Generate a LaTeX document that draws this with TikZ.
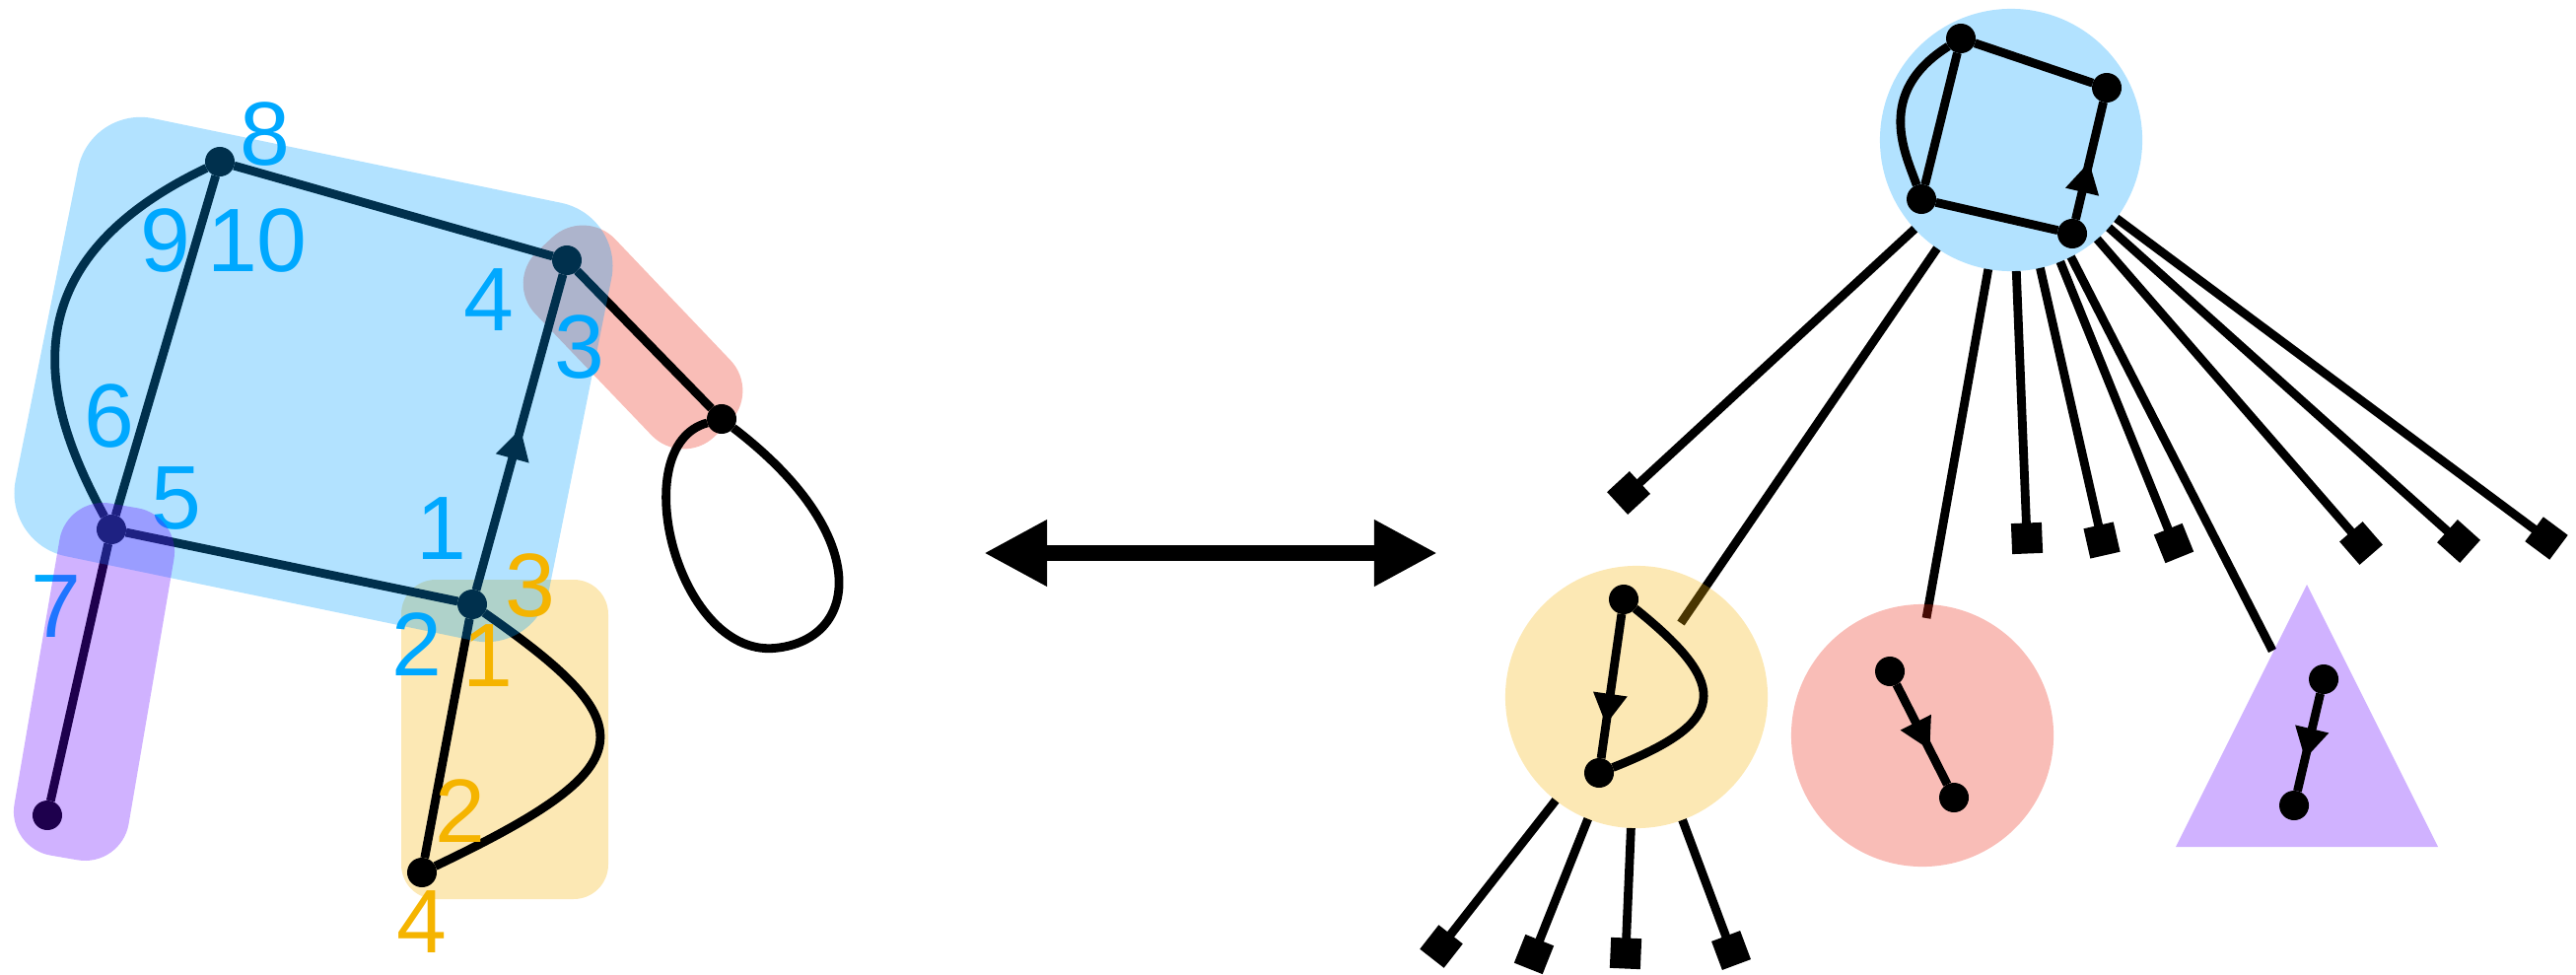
\documentclass[tikz,border=0pt]{standalone}
\usepackage{fontspec}
\setmainfont{Liberation Sans}
\usetikzlibrary{arrows.meta,calc}
\definecolor{regblue}{RGB}{0,160,255}
\definecolor{regred}{RGB}{235,38,15}
\definecolor{regyel}{RGB}{245,178,5}
\definecolor{regpur}{RGB}{100,0,255}
\definecolor{labblue}{RGB}{0,168,255}
\definecolor{laborange}{RGB}{245,180,0}
\tikzset{
  dot/.style={circle, fill=black, minimum size=0.3cm, inner sep=0pt, outer sep=0pt},
  gline/.style={line width=0.088cm, line join=round},
  region/.style={fill opacity=0.3},
  blab/.style={text=labblue, font=\fontsize{26}{30}\selectfont, inner sep=0pt},
  olab/.style={text=laborange, font=\fontsize{26}{30}\selectfont, inner sep=0pt},
  sq/.style={-{Square[length=0.31cm,width=0.31cm]}, shorten >=-0.155cm},
  hole/.style={circle, minimum size=2.66cm, inner sep=0pt, outer sep=0pt},
  bigtip/.style={{Triangle[length=0.64cm,width=0.63cm]}-{Triangle[length=0.64cm,width=0.63cm]}},
}
% arrowhead drawn at a fraction of an edge: from, to, position, name
\newcommand{\midtri}[4]{%
  \coordinate (#4t) at ($(#1)!#3!(#2)$);
  \coordinate (#4b) at ($(#4t)!0.31cm!(#1)$);
  \fill (#4t) -- ($(#4b)!0.175cm!90:(#4t)$) -- ($(#4b)!0.175cm!-90:(#4t)$) -- cycle;}
\begin{document}
\begin{tikzpicture}[x=0.01cm, y=-0.01cm]
\useasboundingbox (0,0) rectangle (2613,988);

% ---------------- left graph ----------------
\fill[regred, region, rounded corners=0.45cm] (593,210) -- (772,398) -- (692,474) -- (512,286) -- cycle;
\fill[regyel, region, rounded corners=0.35cm] (407,588) rectangle (617,912);

\node[dot] (n8) at (223,164) {};
\node[dot] (n4) at (575,264) {};
\node[dot] (nL) at (732,425) {};
\node[dot] (n5) at (113,537) {};
\node[dot] (nc) at (479,613) {};
\node[dot] (nb) at (428,885) {};
\node[dot] (n7) at (48,827) {};
\coordinate (lb) at (790,657);

\draw[gline] (n8) -- (n4);
\draw[gline] (n8) -- (n5);
\draw[gline] (n8) .. controls (-8,274) and (53,426) .. (n5);
\draw[gline] (n5) -- (nc);
\draw[gline] (nc) -- (n4);
\midtri{nc}{n4}{0.51}{ar1}
\draw[gline] (n4) -- (nL);
\draw[gline] (nL) .. controls (632,452) and (688,672) .. (lb) .. controls (872,646) and (885,542) .. (nL);
\draw[gline] (nc) -- (nb);
\draw[gline] (nc) .. controls (657,737) and (654,777) .. (nb);
\draw[gline] (n5) -- (n7);

% blue region over graph
\fill[regblue, region, rounded corners=0.65cm] (92,107) -- (633,219) -- (544,663) -- (3,551) -- cycle;

% blue labels
\node[blab] (b8) at (269,136) {8};
\node[blab] (b9) at (168,244) {9};
\node[blab] (b10) at (261,244) {10};
\node[blab] (b4) at (496,304) {4};
\node[blab] (b3) at (588,352) {3};
\node[blab] (b6) at (111,422) {6};
\node[blab] (b5) at (179,505) {5};
\node[blab] (b1) at (448,536) {1};
\node[blab] (b7) at (57,615) {7};
\node[blab] (b2) at (423,654) {2};

\fill[regpur, region, rounded corners=0.45cm] (68,503) -- (184,523) -- (123,880) -- (7,860) -- cycle;

% orange labels
\node[olab] (o3) at (538,594) {3};
\node[olab] (o1) at (495,665) {1};
\node[olab] (o2) at (467,823) {2};
\node[olab] (o4) at (428,935) {4};

% ---------------- double arrow ----------------
\coordinate (da1) at (998,561);
\coordinate (da2) at (1458,561);
\draw[line width=0.16cm, bigtip] (da1) -- (da2);

% ---------------- right side ----------------
\node[hole] (bc) at (2040,142) {};
\node[hole] (yc) at (1660,707) {};
\node[hole] (rc) at (1950,746) {};

\coordinate (m1) at (1652,500);
\coordinate (m4) at (2056,546);
\coordinate (m5) at (2132,548);
\coordinate (m6) at (2205,551);
\coordinate (m8) at (2395,551);
\coordinate (m9) at (2494,549);
\coordinate (m10) at (2583,546);
\coordinate (e2) at (1705,632);
\coordinate (e3) at (1954,627);
\coordinate (e7) at (2305,660);
\coordinate (ya) at (1462,960);
\coordinate (yb) at (1556,968);
\coordinate (ycc) at (1649,967);
\coordinate (yd) at (1756,964);

\foreach \m in {m1,m4,m5,m6,m8,m9,m10} \draw[gline, sq] (bc) -- (\m);
\draw[gline] (bc) -- (e2);
\draw[gline] (bc) -- (e3);
\draw[gline] (bc) -- (e7);
\foreach \m in {ya,yb,ycc,yd} \draw[gline, sq] (yc) -- (\m);

\fill[regblue, region] (bc.center) circle (1.33cm);
\fill[regyel, region] (yc.center) circle (1.33cm);
\fill[regred, region] (rc.center) circle (1.33cm);
\fill[regpur, region] (2340,593) -- (2207,859) -- (2473,859) -- cycle;

% big circle graph
\node[dot] (A) at (1989,39) {};
\node[dot] (B) at (2137,89) {};
\node[dot] (C) at (1949,202) {};
\node[dot] (D) at (2102,237) {};
\draw[gline] (A) -- (B);
\draw[gline] (A) -- (C);
\draw[gline] (A) .. controls (1900,95) and (1934,158) .. (C);
\draw[gline] (C) -- (D);
\draw[gline] (D) -- (B);
\midtri{D}{B}{0.49}{ar2}

% yellow graph
\node[dot] (T) at (1647,608) {};
\node[dot] (Bt) at (1622,784) {};
\draw[gline] (T) -- (Bt);
\midtri{T}{Bt}{0.72}{ar3}
\draw[gline] (T) .. controls (1758,697) and (1751,733) .. (Bt);

% red graph
\node[dot] (R1) at (1917,681) {};
\node[dot] (R2) at (1982,809) {};
\draw[gline] (R1) -- (R2);
\midtri{R1}{R2}{0.62}{ar4}

% purple graph
\node[dot] (P1) at (2357,689) {};
\node[dot] (P2) at (2327,817) {};
\draw[gline] (P1) -- (P2);
\midtri{P1}{P2}{0.63}{ar5}
\end{tikzpicture}
\end{document}
